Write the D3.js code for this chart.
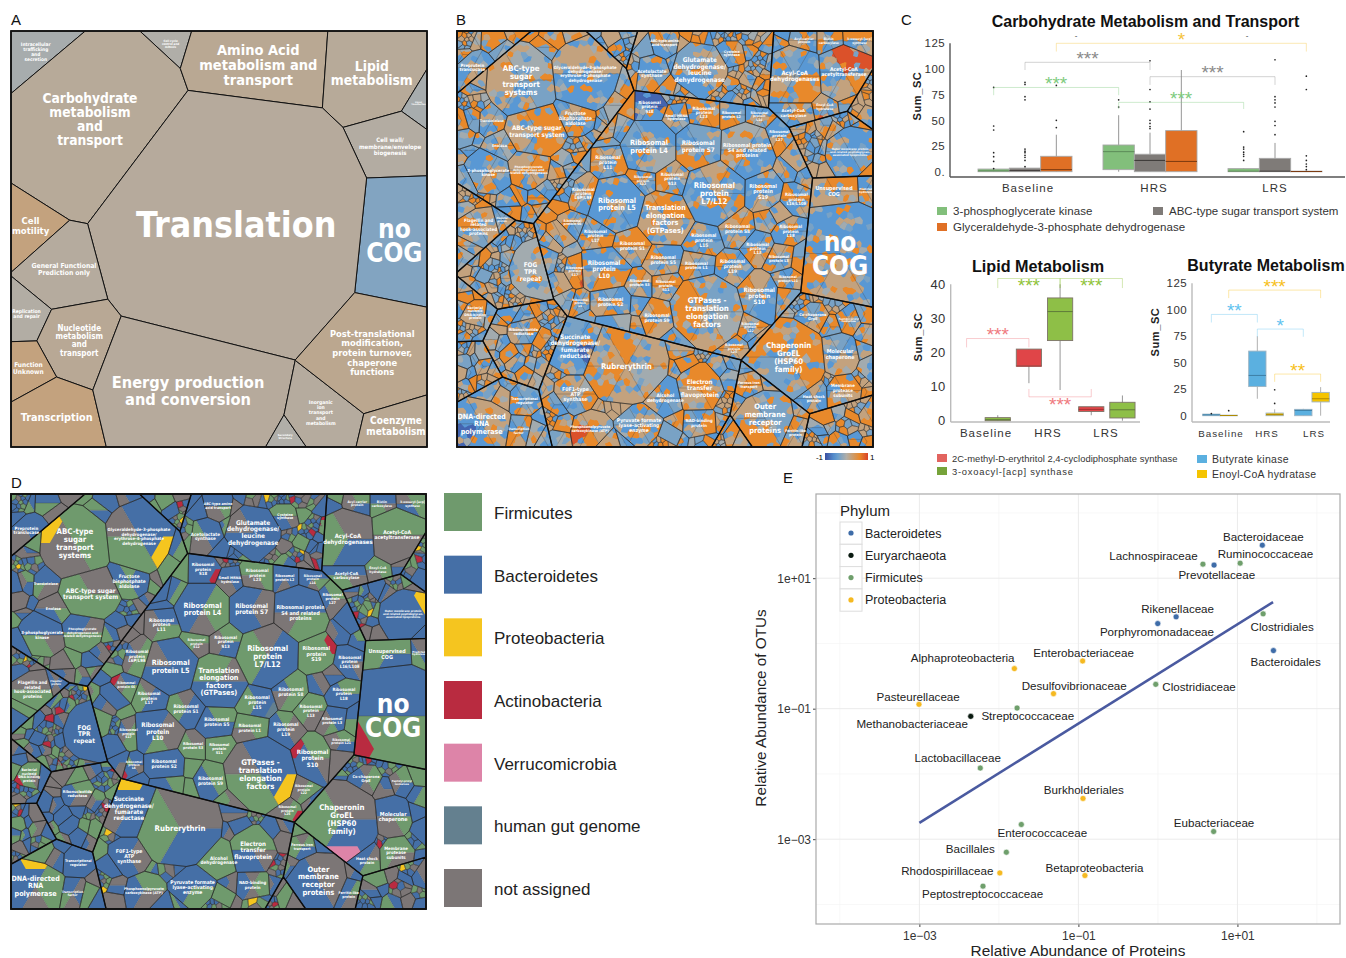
<!DOCTYPE html>
<html>
<head>
<meta charset="utf-8">
<title>Metaproteome figure</title>
<script src="https://cdn.jsdelivr.net/npm/d3@7"></script>
<style>
html,body{margin:0;background:#fff}
svg{display:block}
text{font-family:"Liberation Sans",Arial,sans-serif}
.cell-label text{font-family:"DejaVu Sans Condensed","DejaVu Sans",sans-serif;font-weight:bold;fill:#fff}
</style>
</head>
<body>
<svg id="fig" width="1346" height="958"></svg>
<script>
// ---- COG level (panel A and the thick lines of B, D)
const cogNames = ['Intracellular|trafficking|and|secretion','Cell cycle|control and|mitosis','Carbohydrate|metabolism|and|transport','Amino Acid|metabolism and|transport','Lipid|metabolism','Signal|Transduction','Cell wall/|membrane/envelope|biogenesis','no|COG','Translation','Cell|motility','General Functional|Prediction only','Replication|and repair','Nucleotide|metabolism|and|transport','Function|Unknown','Transcription','Energy production|and conversion','Secondary|Structure','Inorganic|ion|transport|and|metabolism','Post-translational|modification,|protein turnover,|chaperone|functions','Coenzyme|metabolism']
const cogAreas = [138,58,1345,566,490,46,252,487,3287,156,313,103,296,110,315,1205,39,255,654,168]
const cogScores = [-0.05,0,0.07,0.1,0.07,-0.05,0.03,-0.27,0.06,0.2,0.05,0.02,0.09,0.2,0.2,0.06,0,0.05,0.12,0.1]
const cogSiteU = [6.2,38,20.6,57.4,85.8,97.8,90.6,91.4,52.6,5,13.8,4.2,17,4.6,10.6,43,65.4,74.6,86.2,91.8]
const cogSiteV = [5,3.3,22.1,9.2,11.2,18.5,28.5,50.2,46.2,46.7,56.6,68.3,74.3,81.1,92,84.3,97.2,90.8,75.9,94.8]
const cogLabelPx = [4.8,3,13.7,14.5,13.8,2.2,6,26,35.5,9.5,6.8,5,8,6.5,10.8,16.3,2.8,5,9.3,10]
const cogFillerPitch = [4,3.2,3.8,3.2,3.6,3,3,14,4.2,3.6,3,3,3.2,3.4,3.6,3.8,3,3.4,3.5,3.4]
const cogTinyShare = [1,4,2,5,2,3,6,0,1,3,6,5,4,3,3,3,5,4,4,4]

// ---- pathway level (B and D): name, area, site, phylum and regulation per sextant
const cellNames = [
'Ribosomal|protein L4','Ribosomal|protein S7','Ribosomal protein|S4 and related|proteins','Ribosomal|protein|L7/L12','Ribosomal|protein L5','Translation|elongation|factors|(GTPases)','Ribosomal|protein|S19','Ribosomal|protein|L16/L10E','Ribosomal|protein S8','Ribosomal|protein|L15',
'Ribosomal|protein|L13','Ribosomal|protein|L18','Ribosomal|protein S1','Ribosomal|protein|L17','Ribosomal|protein S5','Ribosomal|protein L1','Ribosomal|protein|L19','Ribosomal|protein|L10','Ribosomal|protein S3','Ribosomal|protein|S11',
'Ribosomal|protein S2','Ribosomal|protein S9','GTPases -|translation|elongation|factors','Ribosomal|protein|S10','Ribosomal|protein|L22','Ribosomal|protein|S18','Ribosomal|protein|L23','Ribosomal|protein L2','Ribosomal|protein|L14','Ribosomal|protein|L11',
'Ribosomal|protein|S13','Ribosomal|protein|S12','Ribosomal|protein|L6P/L9E','Ribosomal|protein S6','Ribosomal|protein|S17','Ribosomal|protein|L6','Ribosomal|protein|L27','Ribosomal|protein L3','Ribosomal|protein L21','Ribosomal|protein|L25',
'Small MRNA|hydrolase','ABC-type|sugar|transport|systems','Glyceraldehyde-3-phosphate|dehydrogenase/|erythrose-4-phosphate|dehydrogenase','ABC-type sugar|transport system','Enolase','3-phosphoglycerate|kinase','Phosphoglycerate|dehydrogenase and|related dehydrogenases','Fructose|bisphosphate|aldolase','Transketolase',
'Glutamate|dehydrogenase/|leucine|dehydrogenase','Acetolactate|synthase','Cysteine|synthase','ABC-type amino|acid transport','Acyl-CoA|dehydrogenases','Acetyl-CoA|acetyltransferase','Acetyl-CoA|carboxylase','Enoyl-CoA|hydratase','Acyl-carrier|protein','Biotin|carboxylase','3-oxoacyl-[acp]|synthase',
'Outer membrane protein|and related peptidoglycan-|associated lipoproteins','no|COG','Unsupervised|COG','Predicted|hydrolase','Flagellin and|related|hook-associated|proteins','Flagellar|protein','FOG|TPR|repeat','Bacterial|nucleoid|DNA-binding|protein','Rubrerythrin','Succinate|dehydrogenase/|fumarate|reductase',
'Electron|transfer|flavoprotein','F0F1-type|ATP|synthase','Alcohol|dehydrogenase','Pyruvate formate|lyase-activating|enzyme','Phosphoenolpyruvate|carboxykinase (ATP)','NAD-binding|protein','DNA-directed|RNA|polymerase','Transcriptional|regulator','Transcription|factor','Chaperonin|GroEL|(HSP60|family)',
'Molecular|chaperone','Membrane|protease|subunits','Heat shock|protein','Co-chaperone|GrpE','Peptidyl-prolyl|isomerase','Outer|membrane|receptor|proteins','Ferritin-like|protein','Ferrous iron|transport','Preprotein|translocase','Ribonucleotide|reductase']
const cellAreas = [
114,85,114,146,114,114,61,41,50,50,
41,41,50,41,50,41,50,85,32,32,
50,50,203,78,25,41,41,29,25,50,
41,25,41,25,25,21,32,32,25,25,
29,183,183,114,32,73,61,50,32,
99,41,25,29,130,114,41,25,25,25,29,
85,300,60,20,73,18,110,27,245,99,
85,61,50,73,61,41,114,41,32,203,
61,41,32,32,25,114,25,25,40,32]
const cellSiteU = [
46.7,57.5,68.7,61.1,39.3,49.9,72.8,80.8,67.1,58.7,
72.8,79.2,42.3,34.7,49.5,57.5,65.9,35.7,43.7,50.3,
37.1,48.3,59.9,72.8,69.6,46.7,58.7,66,71.2,37.5,
51.5,45.5,31.1,28.5,28.3,30.3,76,78.4,80,65.6,
52.7,15.9,30.7,19.1,11.5,8.2,17.5,27.9,8.2,
59.5,47.1,66.3,50,80,92,80,87.6,82.4,88.8,95.2,
94.4,91.6,90,98,5.4,14,21.2,3.8,40.7,29.1,
58.9,29.1,49.5,43.9,32.7,59.1,5.8,15.5,15,78.8,
91.2,92.4,84.4,84.8,93.6,73.4,81.6,69.5,5,16]
const cellSiteV = [
28.6,28.6,29,38.7,41.5,44.3,39,40.7,46.7,49.5,
51.5,49,50.7,48.7,54.3,56.3,57.1,57.1,60.7,60.7,
65.5,69.1,67.1,63.5,69.9,20.2,21.4,21.4,21.4,31.8,
35.8,35.8,39,46.3,57.5,65.5,26.2,54.3,59.5,75.1,
22.6,12.2,10.6,23.8,28.2,35,33.5,19.8,21,
9.4,9.4,5.4,2.6,11.4,10.6,20.2,18.6,3,3,2.6,
29.4,52.7,38.7,38.3,47.9,45.5,57.9,67.1,79.2,74.7,
85.2,86.8,87.2,94.4,95.6,94,94,87.2,95.6,78.3,
77.1,85.6,85.9,68.3,69.5,93.2,96.8,84.8,9,72]
const cellPhyla = [
'BFFNBB','BNNBBB','BBFFNB','NBBBFF','BBBBBN','FNBBBF','FRFFFF','BBNBBB','FFFFNB','BBMBFF',
'FFNNFF','FFBBBB','NBBBFF','NBBBFF','FFBBBB','FFFNNF','FNNBBB','BNNFBB','NNFFFF','FFFFFF',
'BBBBBB','FFFBBB','BBYFFN','FFNBBR','NFFFNN','BBRBBB','FFFNNF','BBBNBB','BBFNBB','BBFFNN',
'FFBBNN','FFNNFF','NFFFNB','BBFFNR','NFFFNB','BBNBRF','FFNNBB','BBBFNN','FFBBNN','NFRFNN',
'BBBNNB','FFFNNY','BBYFFN','NNFFFF','NNFBBN','BBNFFB','BNFFFB','FBBFFB','BBNNFB',
'BBBBBN','BBBNNF','FFNBBF','BBFNNB','NNBBFF','FFNNNF','BBNFFB','FFFNNF','FFBBNN','BBNFFB','FFFBBN',
'BYBBBB','BBFFRB','FFBBFF','NNBFFB','NNFFFN','NBBNBB','BBBBBB','FFNFRF','NNBBFF','YBBBNB',
'FFNBBF','BNNBBB','FFFFFF','BBFFBB','FFNNBB','NFFNBB','YFFNBB','BBBBBB','BNBNFB','NNBVFF',
'BBFNNB','FFNNFF','BNFFBB','NFFNBB','FFBBNN','NNNBBB','BFNNBB','NFBBFF','BBBNNB','FFNNBB']
const cellReg = [
'bbggbs','sssoob','gtbbog','tbobbb','bbbsbb','ootttt','bbbtbb','bsobbo','tobbst','bbsobb',
'bsotob','tbsobb','ootbto','sbotob','bbsbto','osbtot','sbbtbo','bbootb','otbtoo','tobsto',
'sbbotb','oottot','ssgtoo','tbbbso','ootbot','ddbbdd','oootbo','bbsoob','sbotbb','boobto',
'tobsoo','bosbto','toobts','tosbot','oorotb','tobsoo','bbsotb','totsbo','botbot','ootbto',
'bosbto','ggsbtt','ttbbbt','oooott','gsgsbb','bsbtsb','totbot','tobosb','sbotbs',
'sttbbs','bbsotb','otobsb','tosbbo','sbootb','rrotbs','ootbsb','toorot','otbots','bosbot','ootsbo',
'bbsbbs','bbbtob','ootttt','bstoob','tttsso','sbobsb','gggggg','ooottb','otgtot','sbdbbs',
'oootto','tgosbt','bbsbto','bsotbs','tttoro','bootbs','tttbdb','ssbobb','sobtob','ooosso',
'sbtttb','ootoob','tbbtbs','sootbt','botoso','sssoot','otbtos','ootbot','sbotbs','tobsto']

// hand typed cycles for the small unlabelled cells the picture is too fine to read one by one
const phylaCycle = 'BFNBBFBFBNFBBRFNBFBNBFYBNBBFNBBFNR'
const regCycle = 'obtsogtbgtosbtootbstgobtbsootgsbo'
const sextantCycle = ['AAAAAA','AAABBB','AABBBA','AAAABB','AABBCC','ABBBAA','AAAAAA']
const mottleCycle = '..b.o..s.t.g.b..t.so.b.t..o.s.g..'
const sizeCycle = [1,0.5,1.4,0.7,1.1,0.45,1.25,0.8,0.6,1.3,0.9]
const jitterA = [0.14,-0.2,0.05,0.22,-0.12,-0.25,0.18,0.03,-0.07,0.25,-0.16]
const jitterB = [-0.1,0.18,0.24,-0.22,0.06,-0.14,0.2,-0.04,0.12,-0.24,0.02,0.16,-0.18]

const regLevels = {d:-0.85,b:-0.52,s:-0.32,g:-0.08,t:0.2,o:0.6,r:0.92}
const phylaNames = ['Firmicutes','Bacteroidetes','Proteobacteria','Actinobacteria','Verrucomicrobia','human gut genome','not assigned']
const phylaColors = ['#6f9a6d','#456fa6','#f5c51f','#b92b40','#dd84a8','#64808f','#7c7676']
const phylaKeys = ['F','B','Y','R','V','M','N']
const rareKeys = new Set(['Y','R','V','M'])

// ---- box plots, each box is [low, q1, median, q3, high]
const groups = ['Baseline','HRS','LRS']
const carbSeries = ['3-phosphoglycerate kinase','ABC-type sugar transport system','Glyceraldehyde-3-phosphate dehydrogenase']
const carbBoxes = [
  [[0,0,0.8,2.6,3],[0,0,1,3.5,5],[0,0,2,15,36]],
  [[0,2,19.5,26,55],[0,0,11,17,38],[0,0,10,40,99]],
  [[0,0,0.5,3,3.5],[0,0,0.5,13,28],[0,0,0.2,0.5,0.5]]]
const carbOutliers = [
  [[82,44.5,40.6,18.5,14.6,10,3],[87,85,73,70,22,20,18.5,16,14,11,5],[84,50,43]],
  [[70,63],[108,80,68,61,50,47,44,42],[]],
  [[39,24,22,19,17,15,11],[109,73,70,67,63,49,45,36],[93,80,15.5,11,7.5,5,2]]]
const carbTicks = [0,25,50,75,100,125]
const carbBrackets = [['Baseline',2,'LRS',2,125,117,'*',-6],['Baseline',1,'HRS',1,106.5,99,'***',-6],['HRS',1,'LRS',1,92.5,84.5,'***',-6],['Baseline',0,'HRS',0,82,74.5,'***',-6],['HRS',0,'LRS',0,67.5,61,'***',-6]]

const lipidSeries = ['2C-methyl-D-erythritol 2,4-cyclodiphosphate synthase','3-oxoacyl-[acp] synthase']
const lipidBoxes = [
  [null,[0,0,0.3,0.9,1.6]],
  [[11,16,16,21,21],[9,23.5,32,36,40]],
  [[1.6,2.7,3.3,4.1,4.1],[0,0.8,3.2,5.4,7.4]]]
const lipidTicks = [0,10,20,30,40]
const lipidBrackets = [['Baseline',1,'HRS',1,41.7,38.9,'***',5],['HRS',1,'LRS',1,41.7,38.9,'***',5],['Baseline',0,'HRS',0,24.1,21.5,'***',-6],['HRS',0,'LRS',0,7,9.3,'***',6]]

const butySeries = ['Butyrate kinase','Enoyl-CoA hydratase']
const butyBoxes = [
  [[0,0,0.8,1.5,1.5],[0,0,0.2,0.5,0.5]],
  [[16,27.5,38,61,75],[0,0,1,2.5,6]],
  [[0,0,5,6,6.5],[0,13,16,22,27]]]
const butyOutliers = [[[2],[4.7]],[[],[11.6,24.5]],[[],[]]]
const butyTicks = [0,25,50,75,100,125]
const butyBrackets = [['Baseline',1,'LRS',1,118.6,111,'***',-6],['Baseline',0,'HRS',0,95.6,88,'**',-6],['HRS',0,'LRS',0,81.8,74.5,'*',-6],['HRS',1,'LRS',1,39.3,32,'**',-6]]

// ---- scatter, values as log10 of relative abundance
const taxa = ['Bacteroidaceae','Lachnospiraceae','Prevotellaceae','Ruminococcaceae','Rikenellaceae','Porphyromonadaceae','Clostridiales','Bacteroidales','Enterobacteriaceae','Alphaproteobacteria','Desulfovibrionaceae','Clostridiaceae','Pasteurellaceae','Streptococcaceae','Methanobacteriaceae','Lactobacillaceae','Burkholderiales','Enterococcaceae','Eubacteriaceae','Bacillales','Rhodospirillaceae','Betaproteobacteria','Peptostreptococcaceae']
const taxaPhylum = ['Bacteroidetes','Firmicutes','Bacteroidetes','Firmicutes','Bacteroidetes','Bacteroidetes','Firmicutes','Bacteroidetes','Proteobacteria','Proteobacteria','Proteobacteria','Firmicutes','Proteobacteria','Firmicutes','Euryarchaeota','Firmicutes','Proteobacteria','Firmicutes','Firmicutes','Firmicutes','Proteobacteria','Proteobacteria','Firmicutes']
const logProtein = [1.313,0.566,0.706,1.034,0.229,-0.002,1.323,1.453,-0.947,-1.805,-1.313,-0.027,-3.005,-1.771,-2.354,-2.234,-0.942,-1.718,0.701,-1.906,-1.988,-0.918,-2.2]
const logOtu = [1.506,1.215,1.2,1.23,0.407,0.304,0.453,-0.11,-0.269,-0.386,-0.77,-0.627,-0.934,-0.99,-1.118,-1.91,-2.376,-2.775,-2.882,-3.2,-3.517,-3.557,-3.72]
const fitProtein = [-3,1.448]
const fitOtu = [-2.75,0.632]
const scatterPhyla = ['Bacteroidetes','Euryarchaeota','Firmicutes','Proteobacteria']
const scatterColors = ['#3e6ca8','#0a1a10','#6f9f6c','#f5b921']
// label nudges from each dot, in pixels
const taxaDx = [1,-49.4,2.7,25.3,1.5,-0.8,19,12.3,1,-51.7,20.7,43.3,-0.8,10.7,-58.6,-22.6,0.8,21,0.4,-36,-52.5,9.6,-0.4]
const taxaDy = [-7.7,-8.3,10.3,-9,-8,8.3,12.7,11,-8.3,-10.7,-7.7,2.3,-7.7,8.3,8,-10,-8,8.3,-8,-3.7,-2,-7.7,8.3]

const svg = d3.select('#fig')
const regColor = d3.scaleLinear().domain([-1,-0.5,0,0.6,1]).range(['#3a4ea0','#5a9bd6','#b0aea8','#e8892b','#d8432a'])
const phylumColor = d3.scaleOrdinal().domain(phylaKeys).range(phylaColors)

function clipHalf(poly, a, b, c) {
    const out = []
    for (let i = 0, n = poly.length; i < n; i++) {
        const p = poly[i], q = poly[(i + 1) % n]
        const dp = a * p[0] + b * p[1] - c, dq = a * q[0] + b * q[1] - c
        if (dp <= 0) out.push(p)
        if (dp * dq < 0) {
            const t = dp / (dp - dq)
            out.push([p[0] + t * (q[0] - p[0]), p[1] + t * (q[1] - p[1])])
        }
    }
    return out
}
function clipConvex(poly, hull) {
    const c0 = d3.polygonCentroid(hull)
    let out = poly
    for (let i = 0, n = hull.length; i < n && out.length; i++) {
        const p = hull[i], q = hull[(i + 1) % n]
        let a = q[1] - p[1], b = p[0] - q[0]
        if (a * (c0[0] - p[0]) + b * (c0[1] - p[1]) > 0) { a = -a; b = -b }
        out = clipHalf(out, a, b, a * p[0] + b * p[1])
    }
    return out
}
const areaOf = (p) => p.length < 3 ? 0 : Math.abs(d3.polygonArea(p))

// power diagram with weights solved so each cell gets its share of the area
function powerCells(sites, areas, bound, iters) {
    const total = d3.sum(areas), full = areaOf(bound)
    const target = areas.map((a) => a * full / total)
    const w = sites.map(() => 0)
    const cells = () => sites.map((s, i) => {
        let poly = bound
        for (let j = 0; j < sites.length && poly.length; j++) {
            if (j === i) continue
            const t = sites[j]
            poly = clipHalf(poly, 2 * (t[0] - s[0]), 2 * (t[1] - s[1]),
                t[0] * t[0] + t[1] * t[1] - s[0] * s[0] - s[1] * s[1] - w[j] + w[i])
        }
        return poly
    })
    for (let k = 0; k < iters; k++) {
        const polys = cells()
        polys.forEach((p, i) => { w[i] += 0.2 * (target[i] - areaOf(p)) })
    }
    return cells()
}

const cogPolys = powerCells(cogSiteU.map((u, i) => [u, cogSiteV[i]]), cogAreas, [[0,0],[100,0],[100,100],[0,100]], 160)

// hierarchy shared by panels B and D
const leaves = []
let fillerIndex = 0
cogPolys.forEach((parent, ci) => {
    const named = cellNames.map((n, i) => i).filter((i) => d3.polygonContains(parent, [cellSiteU[i], cellSiteV[i]]))
    const pitch = cogFillerPitch[ci]
    const sites = named.map((i) => [cellSiteU[i], cellSiteV[i]])
    const areas = named.map((i) => cellAreas[i])
    const meta = named.map((i) => ({ name: cellNames[i], phy: cellPhyla[i], reg: cellReg[i] }))
    const xs = parent.map((p) => p[0]), ys = parent.map((p) => p[1])
    let row = 0, k = 0
    for (let y = d3.min(ys) + pitch * 0.4; y < d3.max(ys); y += pitch * 0.866, row++) {
        for (let x = d3.min(xs) + (row % 2 ? pitch * 0.5 : 0.2); x < d3.max(xs); x += pitch, k++) {
            const px = x + jitterA[k % jitterA.length] * pitch, py = y + jitterB[k % jitterB.length] * pitch
            if (!d3.polygonContains(parent, [px, py])) continue
            const clear = named.every((i) => Math.hypot(px - cellSiteU[i], py - cellSiteV[i]) > Math.sqrt(cellAreas[i] / Math.PI) * 1.02 + pitch * 0.25)
            if (!clear) continue
            sites.push([px, py])
            areas.push(pitch * pitch * 0.866 * sizeCycle[k % sizeCycle.length])
            meta.push({ filler: true })
        }
    }
    if (!sites.length) {
        sites.push(d3.polygonCentroid(parent)); areas.push(1); meta.push({ filler: true })
    }
    const polys = powerCells(sites, areas, parent, 60)
    polys.forEach((poly, i) => {
        if (poly.length < 3) return
        const m = meta[i]
        if (!m.filler) { leaves.push({ poly, ...m, area: areaOf(poly) }); return }
        const idx = fillerIndex++
        const area = areaOf(poly)
        if (idx % 10 < cogTinyShare[ci] && area > 3) {
            // dense honeycomb
            const step = [1.15, 1.6, 1.9, 1.35][idx % 4]
            const bx = poly.map((p) => p[0]), by = poly.map((p) => p[1])
            const pts = []
            let r = 0, q = idx
            for (let y = d3.min(by); y < d3.max(by); y += step * 0.866, r++) {
                for (let x = d3.min(bx) + (r % 2 ? step / 2 : 0); x < d3.max(bx); x += step, q++) {
                    const p = [x + jitterB[q % jitterB.length] * step * 0.7, y + jitterA[q % jitterA.length] * step * 0.7]
                    if (d3.polygonContains(poly, p)) pts.push(p)
                }
            }
            if (pts.length >= 4) {
                const vor = d3.Delaunay.from(pts).voronoi([d3.min(bx) - 2, d3.min(by) - 2, d3.max(bx) + 2, d3.max(by) + 2])
                pts.forEach((p, t) => {
                    const cell = vor.cellPolygon(t)
                    if (!cell) return
                    const clipped = clipConvex(cell.slice(0, -1), poly)
                    if (clipped.length < 3) return
                    const a = phylaCycle[(idx * 3 + t * 5) % phylaCycle.length]
                    const b = regCycle[(idx * 5 + t * 7) % regCycle.length]
                    leaves.push({ poly: clipped, phy: a.repeat(6), reg: b.repeat(6), area: areaOf(clipped), tiny: true })
                })
                return
            }
        }
        const pattern = sextantCycle[idx % sextantCycle.length]
        const pick = (cycle, mul) => pattern.replace(/[ABC]/g, (c) => cycle[(idx * mul + 'ABC'.indexOf(c) * 4) % cycle.length])
        let phy = pick(phylaCycle, 3)
        if (area > 6) phy = phy.replace(/[YR]/g, 'N')
        leaves.push({ poly, phy, reg: pick(regCycle, 5), area })
    })
})

function sextants(poly, c) {
    return d3.range(6).map((k) => {
        const a0 = (-120 + 60 * k) * Math.PI / 180, a1 = a0 + Math.PI / 3
        const d0 = [Math.cos(a0), Math.sin(a0)], d1 = [Math.cos(a1), Math.sin(a1)]
        let p = clipHalf(poly, d0[1], -d0[0], d0[1] * c[0] - d0[0] * c[1])
        p = clipHalf(p, -d1[1], d1[0], -d1[1] * c[0] + d1[0] * c[1])
        return p
    })
}
function sextantOf(p, c) {
    const deg = Math.atan2(p[1] - c[1], p[0] - c[0]) * 180 / Math.PI
    return Math.floor(((deg + 120 + 360) % 360) / 60)
}
function rayEnd(poly, c, ang) {
    const dx = Math.cos(ang), dy = Math.sin(ang)
    let best = 0
    for (let i = 0, n = poly.length; i < n; i++) {
        const p = poly[i], q = poly[(i + 1) % n]
        const ex = q[0] - p[0], ey = q[1] - p[1]
        const den = dx * ey - dy * ex
        if (Math.abs(den) < 1e-9) continue
        const t = ((p[0] - c[0]) * ey - (p[1] - c[1]) * ex) / den
        const s = ((p[0] - c[0]) * dy - (p[1] - c[1]) * dx) / den
        if (t > best && s >= -1e-6 && s <= 1 + 1e-6) best = t
    }
    return [c[0] + dx * best, c[1] + dy * best]
}

function lines(str) { return str.split('|') }

function addCenteredText(sel, label, x, y, size) {
    const parts = lines(label), lh = size * (size >= 20 ? 0.92 : 1.03)
    const t = sel.append('text').attr('text-anchor', 'middle').attr('font-size', size)
    t.selectAll('tspan').data(parts).join('tspan')
        .attr('x', x)
        .attr('y', (d, i) => y + (i - (parts.length - 1) / 2) * lh + size * 0.36)
        .text((d) => d)
}

function drawFrame(g, sx, sy, size) {
    g.append('rect').attr('x', sx(0)).attr('y', sy(0)).attr('width', size).attr('height', size)
        .attr('fill', 'none').attr('stroke', '#111').attr('stroke-width', 1.8)
}

function pathOf(polys, sx, sy) {
    return polys.map((p) => 'M' + p.map((v) => sx(v[0]).toFixed(1) + ',' + sy(v[1]).toFixed(1)).join('L') + 'Z').join('')
}

// panel A
function drawCogPanel(x0, y0, size) {
    const sx = d3.scaleLinear().domain([0, 100]).range([x0, x0 + size])
    const sy = d3.scaleLinear().domain([0, 100]).range([y0, y0 + size])
    const g = svg.append('g')
    g.selectAll('path').data(cogPolys).join('path')
        .attr('d', (p) => pathOf([p], sx, sy))
        .attr('fill', (p, i) => regColor(cogScores[i]))
        .attr('stroke', '#111').attr('stroke-width', 1)
    const lab = g.append('g').attr('class', 'cell-label')
    cogPolys.forEach((p, i) => {
        const c = d3.polygonCentroid(p)
        addCenteredText(lab, cogNames[i], sx(c[0]), sy(c[1]), cogLabelPx[i])
    })
    drawFrame(g, sx, sy, size)
}

// panels B and D
function drawTreemap(x0, y0, size, key, colorOf, mottled) {
    const sx = d3.scaleLinear().domain([0, 100]).range([x0, x0 + size])
    const sy = d3.scaleLinear().domain([0, 100]).range([y0, y0 + size])
    const g = svg.append('g')
    const base = new Map(), top = new Map(), seams = []
    const push = (m, col, poly) => { if (!m.has(col)) m.set(col, []); m.get(col).push(poly) }
    leaves.forEach((leaf) => {
        const codes = leaf[key]
        if (new Set(codes).size === 1) { push(base, colorOf(codes[0]), leaf.poly); return }
        leaf.center = d3.polygonCentroid(leaf.poly)
        const common = [...codes].map((c, k) => {
            if (!rareKeys.has(c)) return c
            const prev = codes[(k + 5) % 6], next = codes[(k + 1) % 6]
            return rareKeys.has(prev) ? (rareKeys.has(next) ? 'N' : next) : prev
        })
        sextants(leaf.poly, leaf.center).forEach((p, k) => {
            if (p.length < 3) return
            push(base, colorOf(common[k]), p)
            if (rareKeys.has(codes[k])) {
                // rare phyla only hold the outer tip of a sextant
                const ang = (-90 + 60 * k) * Math.PI / 180, dx = Math.cos(ang), dy = Math.sin(ang)
                const reach = d3.max(p, (v) => (v[0] - leaf.center[0]) * dx + (v[1] - leaf.center[1]) * dy)
                const tip = clipHalf(p, -dx, -dy, -(dx * leaf.center[0] + dy * leaf.center[1] + reach * 0.62))
                if (tip.length > 2) push(top, colorOf(codes[k]), tip)
            }
        })
        for (let k = 0; k < 6; k++) {
            if (common[k] !== common[(k + 1) % 6]) {
                const end = rayEnd(leaf.poly, leaf.center, (-60 + 60 * k) * Math.PI / 180)
                seams.push([leaf.center, end])
            }
        }
    })
    if (mottled) {
        const step = 1.6, pts = []
        let r = 0, q = 0
        for (let y = 0; y < 100; y += step * 0.866, r++) {
            for (let x = (r % 2 ? step / 2 : 0); x < 100; x += step, q++) {
                pts.push([x + jitterA[q % jitterA.length] * step, y + jitterB[q % jitterB.length] * step])
            }
        }
        const vor = d3.Delaunay.from(pts).voronoi([0, 0, 100, 100])
        const big = leaves.filter((l) => !l.tiny && l.area > 4)
        big.forEach((l) => {
            const bx = d3.extent(l.poly, (p) => p[0]), by = d3.extent(l.poly, (p) => p[1])
            l.box = [bx[0], bx[1], by[0], by[1]]
            l.center = l.center || d3.polygonCentroid(l.poly)
        })
        pts.forEach((p, i) => {
            const l = big.find((c) => p[0] >= c.box[0] && p[0] <= c.box[1] && p[1] >= c.box[2] && p[1] <= c.box[3] && d3.polygonContains(c.poly, p))
            if (!l) return
            const m = mottleCycle[(i * 7 + (i >> 2)) % mottleCycle.length]
            const code = m === '.' ? l[key][sextantOf(p, l.center)] : m
            const clipped = clipConvex(vor.cellPolygon(i).slice(0, -1), l.poly)
            if (clipped.length > 2) push(top, colorOf(code), clipped)
        })
    }
    const paint = (m) => g.append('g').selectAll('path').data([...m.entries()]).join('path')
        .attr('d', (d) => pathOf(d[1], sx, sy)).attr('fill', (d) => d[0])
    paint(base)
    paint(top)
    g.append('path').attr('d', seams.map((s) => `M${sx(s[0][0]).toFixed(1)},${sy(s[0][1]).toFixed(1)}L${sx(s[1][0]).toFixed(1)},${sy(s[1][1]).toFixed(1)}`).join(''))
        .attr('fill', 'none').attr('stroke', '#3a3a3a').attr('stroke-width', 0.3)
    g.append('path').attr('d', pathOf(leaves.filter((l) => l.tiny).map((l) => l.poly), sx, sy))
        .attr('fill', 'none').attr('stroke', '#2a2a2a').attr('stroke-width', 0.4)
    g.append('path').attr('d', pathOf(leaves.filter((l) => !l.tiny).map((l) => l.poly), sx, sy))
        .attr('fill', 'none').attr('stroke', '#222').attr('stroke-width', 0.55)
    g.append('path').attr('d', pathOf(cogPolys, sx, sy))
        .attr('fill', 'none').attr('stroke', '#0c0c0c').attr('stroke-width', 1.4)
    const lab = g.append('g').attr('class', 'cell-label')
    leaves.filter((l) => l.name).forEach((l) => {
        const c = d3.polygonCentroid(l.poly)
        const w = sx(d3.max(l.poly, (p) => p[0])) - sx(d3.min(l.poly, (p) => p[0]))
        const longest = d3.max(lines(l.name), (s) => s.length)
        let fs = Math.min(7.8, 0.62 * Math.sqrt(l.area))
        fs = Math.min(fs, w * 0.95 / (longest * 0.6))
        if (l.name === 'no|COG') fs = 26
        addCenteredText(lab, l.name, sx(c[0]), sy(c[1]), Math.max(2.4, fs))
    })
    drawFrame(g, sx, sy, size)
}

drawCogPanel(11, 31, 416)
drawTreemap(457, 31, 416, 'reg', (c) => regColor(regLevels[c]), true)
drawTreemap(11, 494, 415, 'phy', (c) => phylumColor(c), false)

// colour key of B
const grad = svg.append('defs').append('linearGradient').attr('id', 'regKey')
grad.selectAll('stop').data(d3.range(0, 1.01, 0.1)).join('stop')
    .attr('offset', (d) => d).attr('stop-color', (d) => regColor(d * 2 - 1))
svg.append('rect').attr('x', 825).attr('y', 453).attr('width', 43).attr('height', 7).attr('fill', 'url(#regKey)')
svg.append('text').attr('x', 823).attr('y', 460).attr('text-anchor', 'end').attr('font-size', 8).text('-1')
svg.append('text').attr('x', 870).attr('y', 460).attr('font-size', 8).text('1')

// phylum key of D
const keyY = d3.scalePoint().domain(phylaNames).range([493, 869])
const keyRows = svg.append('g').selectAll('g').data(phylaNames).join('g')
    .attr('transform', (d) => `translate(444,${keyY(d)})`)
keyRows.append('rect').attr('width', 38).attr('height', 38).attr('fill', (d, i) => phylaColors[i])
keyRows.append('text').attr('x', 50).attr('y', 26).attr('font-size', 17).attr('fill', '#222').text((d) => d)

// panel letters
const panelLetters = ['A','B','C','D','E']
const panelLetterX = [11,456,901,11,783]
const panelLetterY = [25,25,25,488,483]
svg.append('g').selectAll('text').data(panelLetters).join('text')
    .attr('x', (d, i) => panelLetterX[i]).attr('y', (d, i) => panelLetterY[i])
    .attr('font-size', 15).attr('fill', '#111').text((d) => d)

// box plot panels
function boxPanel(o) {
    const g = svg.append('g')
    const y = d3.scaleLinear().domain(o.yDomain).range(o.yRange)
    const xGroup = d3.scaleBand().domain(groups).range(o.xRange).paddingInner(o.groupPad)
    const xSeries = d3.scaleBand().domain(d3.range(o.series.length)).range([0, xGroup.bandwidth()])
        .paddingInner(o.boxPad).paddingOuter(o.boxPad / 2)
    const centre = (grp, s) => xGroup(grp) + xSeries(s) + xSeries.bandwidth() / 2

    g.append('text').attr('x', o.titleX).attr('y', o.titleY).attr('text-anchor', 'middle')
        .attr('font-size', o.titleSize).attr('font-weight', 'bold').attr('fill', '#111').text(o.title)
    g.append('text').attr('transform', `translate(${o.ylabX},${o.ylabY}) rotate(-90)`).attr('text-anchor', 'middle')
        .attr('font-size', 11).attr('font-weight', 'bold').attr('letter-spacing', 0.6).attr('fill', '#222').text('Sum_SC')

    const yAxis = g.append('g').attr('transform', `translate(${o.axisX},0)`)
        .call(d3.axisLeft(y).tickValues(o.ticks).tickSize(0).tickPadding(5).tickFormat(o.tickFormat || d3.format('d')))
    yAxis.select('.domain').attr('d', `M0,${o.yRange[1]}V${o.axisY}`).attr('stroke', o.axisColor).attr('stroke-width', 1.4)
    yAxis.selectAll('text').attr('font-size', o.tickPx).attr('letter-spacing', 0.4).attr('fill', '#333').attr('font-family', '"Liberation Sans",Arial,sans-serif')

    g.append('line').attr('x1', o.axisX).attr('x2', o.axisEnd).attr('y1', o.axisY).attr('y2', o.axisY)
        .attr('stroke', o.axisColor).attr('stroke-width', 1.4)
    g.selectAll('.cat').data(groups).join('text').attr('class', 'cat')
        .attr('x', (d, i) => o.catX[i]).attr('y', o.catY).attr('text-anchor', 'middle')
        .attr('font-size', o.catPx).attr('letter-spacing', 1).attr('fill', '#333').text((d) => d)

    groups.forEach((grp, gi) => {
        o.series.forEach((name, si) => {
            const b = o.boxes[gi][si]
            const xc = centre(grp, si), w = xSeries.bandwidth()
            if (b) {
                g.append('line').attr('x1', xc).attr('x2', xc).attr('y1', y(b[0])).attr('y2', y(b[4]))
                    .attr('stroke', o.whisker).attr('stroke-width', 0.9)
                g.append('rect').attr('x', xc - w / 2).attr('width', w).attr('y', y(b[3]))
                    .attr('height', Math.max(0.6, y(b[1]) - y(b[3])))
                    .attr('fill', o.fills[si]).attr('stroke', o.boxStroke).attr('stroke-width', 0.9)
                g.append('line').attr('x1', xc - w / 2).attr('x2', xc + w / 2).attr('y1', y(b[2])).attr('y2', y(b[2]))
                    .attr('stroke', o.medians[si]).attr('stroke-width', 1)
            }
            const pts = o.outliers ? o.outliers[gi][si] : []
            g.selectAll(null).data(pts).join('circle')
                .attr('cx', xc).attr('cy', (d) => y(d)).attr('r', 0.85).attr('fill', '#222')
        })
    })

    o.brackets.forEach((b) => {
        const x1 = centre(b[0], b[1]), x2 = centre(b[2], b[3])
        const col = o.starColors[b[1]]
        g.append('path').attr('d', `M${x1},${y(b[5])}V${y(b[4])}H${x2}V${y(b[5])}`)
            .attr('fill', 'none').attr('stroke', col).attr('stroke-opacity', 0.38).attr('stroke-width', 1)
        g.append('text').attr('x', (x1 + x2) / 2).attr('y', y(b[4]) + b[7] + 8.5).attr('text-anchor', 'middle')
            .attr('font-size', 19).attr('fill', col).text(b[6])
    })

    const rows = g.selectAll('.key').data(o.series).join('g').attr('class', 'key')
        .attr('transform', (d, i) => `translate(${o.keyX[i]},${o.keyY[i]})`)
    rows.append('rect').attr('x', 0).attr('y', -8).attr('width', 10).attr('height', 8).attr('fill', (d, i) => o.keyFills[i])
    rows.append('text').attr('x', o.keyGap).attr('y', 0).attr('font-size', o.keySize)
        .attr('letter-spacing', (d, i) => o.keySpacing[i]).attr('fill', '#333').text((d) => d)
}

boxPanel({
    title: 'Carbohydrate Metabolism and Transport', titleX: 1145.5, titleY: 27, titleSize: 16,
    series: carbSeries, boxes: carbBoxes, outliers: carbOutliers, brackets: carbBrackets, ticks: carbTicks,
    tickFormat: (d) => d === 0 ? '0.' : d, tickPx: 11.5, catPx: 11.5,
    yDomain: [0, 125], yRange: [171.7, 43.3], xRange: [978, 1322], groupPad: 0.248, boxPad: 0,
    axisX: 950, axisY: 177, axisEnd: 1345, axisColor: '#555', ylabX: 921, ylabY: 96,
    catX: [1028, 1154, 1275], catY: 192,
    fills: ['#82bf7b', '#7f7b78', '#e07025'], medians: ['#5c8a58', '#3a3634', '#7c3a10'],
    boxStroke: '#a8a8a8', whisker: '#8a8a8a', starColors: ['#7ecb7e', '#8a8a8a', '#f5c33b'],
    keyX: [937, 1153, 937], keyY: [215, 215, 231], keyFills: ['#82bf7b', '#7f7b78', '#e07025'],
    keyGap: 16, keySize: 11.5, keySpacing: [0.08, 0, 0.05]
})
boxPanel({
    title: 'Lipid Metabolism', titleX: 1038, titleY: 272, titleSize: 16.2,
    series: lipidSeries, boxes: lipidBoxes, brackets: lipidBrackets, ticks: lipidTicks,
    tickPx: 13, catPx: 11.5,
    yDomain: [0, 40], yRange: [420.7, 284.3], xRange: [951, 1138], groupPad: 0, boxPad: 0.19,
    axisX: 950.7, axisY: 422, axisEnd: 1140, axisColor: '#bbb', ylabX: 922, ylabY: 337,
    catX: [986, 1048, 1106], catY: 437,
    fills: ['#e04548', '#8ebf47'], medians: ['#a83234', '#5f7a3a'],
    boxStroke: '#7d7468', whisker: '#8a8a8a', starColors: ['#ef7a80', '#8fc33a'],
    keyX: [937, 937], keyY: [462, 475], keyFills: ['#e2645f', '#76a33a'],
    keyGap: 15, keySize: 9.4, keySpacing: [0.05, 0.75]
})
boxPanel({
    title: 'Butyrate Metabolism', titleX: 1266, titleY: 271, titleSize: 16,
    series: butySeries, boxes: butyBoxes, outliers: butyOutliers, brackets: butyBrackets, ticks: butyTicks,
    tickPx: 11.5, catPx: 9.8,
    yDomain: [0, 125], yRange: [415.7, 283.3], xRange: [1202.7, 1329.3], groupPad: 0.246, boxPad: 0,
    axisX: 1192, axisY: 422, axisEnd: 1330, axisColor: '#bbb', ylabX: 1159, ylabY: 332,
    catX: [1221, 1267, 1314], catY: 437,
    fills: ['#5bb0e0', '#f5c400'], medians: ['#3e7fa6', '#b08a00'],
    boxStroke: '#9fb4c2', whisker: '#a8a8a8', starColors: ['#62c3f0', '#f7bf1a'],
    keyX: [1197, 1197], keyY: [463, 478], keyFills: ['#5bb0e0', '#f5c400'],
    keyGap: 15, keySize: 10.5, keySpacing: [0.3, 0.3]
})
// two stray dashes above the carbohydrate panel
const strayX = [1076, 1247]
svg.append('g').selectAll('text').data(strayX).join('text')
    .attr('x', (d) => d).attr('y', 38).attr('text-anchor', 'middle').attr('font-size', 8).attr('fill', '#333').text('-')

// panel E
const eFrame = { left: 816, right: 1340, top: 494, bottom: 924 }
const eX = d3.scaleLog().domain([Math.pow(10, -4.3), Math.pow(10, 2.29)]).range([eFrame.left, eFrame.right])
const eY = d3.scaleLog().domain([Math.pow(10, -4.3), Math.pow(10, 2.29)]).range([eFrame.bottom, eFrame.top])
const eG = svg.append('g')
const majorExp = [-3, -1, 1], minorExp = [-4, -2, 0, 2]
const pow10 = (v) => Math.pow(10, v)
eG.append('g').selectAll('line').data(minorExp).join('line')
    .attr('x1', (d) => eX(pow10(d))).attr('x2', (d) => eX(pow10(d))).attr('y1', eFrame.top).attr('y2', eFrame.bottom)
    .attr('stroke', '#f3f3f3').attr('stroke-width', 0.7)
eG.append('g').selectAll('line').data(minorExp).join('line')
    .attr('y1', (d) => eY(pow10(d))).attr('y2', (d) => eY(pow10(d))).attr('x1', eFrame.left).attr('x2', eFrame.right)
    .attr('stroke', '#f3f3f3').attr('stroke-width', 0.7)
eG.append('g').selectAll('line').data(majorExp).join('line')
    .attr('x1', (d) => eX(pow10(d))).attr('x2', (d) => eX(pow10(d))).attr('y1', eFrame.top).attr('y2', eFrame.bottom)
    .attr('stroke', '#ebebeb').attr('stroke-width', 1)
eG.append('g').selectAll('line').data(majorExp).join('line')
    .attr('y1', (d) => eY(pow10(d))).attr('y2', (d) => eY(pow10(d))).attr('x1', eFrame.left).attr('x2', eFrame.right)
    .attr('stroke', '#ebebeb').attr('stroke-width', 1)
const expTick = (v) => { const e = Math.round(Math.log10(v)); return '1e' + (e < 0 ? '\u2212' : '+') + String(Math.abs(e)).padStart(2, '0') }
const styleAxis = (a) => {
    a.select('.domain').remove()
    a.selectAll('line').attr('stroke', '#444')
    a.selectAll('text').attr('font-size', 12).attr('fill', '#333').attr('font-family', '"Liberation Sans",Arial,sans-serif')
}
eG.append('g').attr('transform', `translate(0,${eFrame.bottom})`)
    .call(d3.axisBottom(eX).tickValues(majorExp.map(pow10)).tickFormat(expTick).tickSize(3).tickPadding(4)).call(styleAxis)
eG.append('g').attr('transform', `translate(${eFrame.left},0)`)
    .call(d3.axisLeft(eY).tickValues(majorExp.map(pow10)).tickFormat(expTick).tickSize(3).tickPadding(2)).call(styleAxis)
eG.append('rect').attr('x', eFrame.left).attr('y', eFrame.top).attr('width', eFrame.right - eFrame.left).attr('height', eFrame.bottom - eFrame.top)
    .attr('fill', 'none').attr('stroke', '#aaa').attr('stroke-width', 1.2)
eG.append('path').datum(fitProtein.map((v, i) => [pow10(v), pow10(fitOtu[i])]))
    .attr('d', d3.line().x((d) => eX(d[0])).y((d) => eY(d[1])))
    .attr('stroke', '#4a5aa0').attr('stroke-width', 2.6).attr('fill', 'none')
const scatterColor = d3.scaleOrdinal().domain(scatterPhyla).range(scatterColors)
eG.append('g').selectAll('circle').data(taxa).join('circle')
    .attr('cx', (d, i) => eX(pow10(logProtein[i]))).attr('cy', (d, i) => eY(pow10(logOtu[i]))).attr('r', 3)
    .attr('fill', (d, i) => scatterColor(taxaPhylum[i])).attr('stroke', '#fff').attr('stroke-width', 0.6)
eG.append('g').selectAll('text').data(taxa).join('text')
    .attr('x', (d, i) => eX(pow10(logProtein[i])) + taxaDx[i]).attr('y', (d, i) => eY(pow10(logOtu[i])) + taxaDy[i] + 4)
    .attr('text-anchor', 'middle').attr('font-size', 11.6).attr('fill', '#222').text((d) => d)
eG.append('text').attr('x', 1078).attr('y', 956).attr('text-anchor', 'middle').attr('font-size', 15.4).attr('fill', '#222').text('Relative Abundance of Proteins')
eG.append('text').attr('transform', 'translate(766,708) rotate(-90)').attr('text-anchor', 'middle').attr('font-size', 15.3).attr('fill', '#222').text('Relative Abundance of OTUs')

const eKey = eG.append('g').attr('transform', 'translate(840,522)')
eKey.append('text').attr('x', 0).attr('y', -6).attr('font-size', 15).attr('fill', '#222').text('Phylum')
const eRows = eKey.selectAll('g').data(scatterPhyla).join('g').attr('transform', (d, i) => `translate(0,${i * 22.3})`)
eRows.append('rect').attr('width', 22).attr('height', 22.3).attr('fill', '#fff').attr('stroke', '#ddd').attr('stroke-width', 1)
eRows.append('circle').attr('cx', 11).attr('cy', 11).attr('r', 2.6).attr('fill', (d, i) => scatterColors[i])
eRows.append('text').attr('x', 25).attr('y', 15.5).attr('font-size', 12.5).attr('fill', '#222').text((d) => d)
</script>
</body>
</html>
